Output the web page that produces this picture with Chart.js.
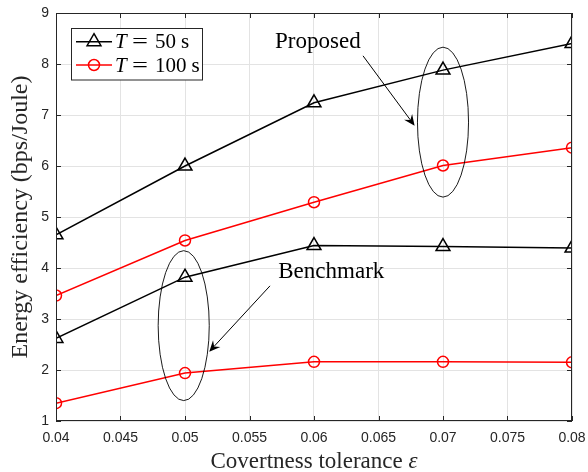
<!DOCTYPE html>
<html><head><meta charset="utf-8">
<script src="https://cdn.jsdelivr.net/npm/chart.js@4"></script>
<style>html,body{margin:0;padding:0;background:#fff}canvas{display:block}</style>
</head><body>
<canvas id="c" width="588" height="472"></canvas>
<script>
// ---- data ----
const epsilon = [0.04, 0.05, 0.06, 0.07, 0.08];
const proposedT50 = [4.65, 6.00, 7.24, 7.88, 8.40];
const proposedT100 = [3.46, 4.54, 5.29, 6.01, 6.36];
const benchmarkT50 = [2.62, 3.82, 4.44, 4.42, 4.39];
const benchmarkT100 = [1.35, 1.94, 2.16, 2.16, 2.15];
const xTickValues = [0.04, 0.045, 0.05, 0.055, 0.06, 0.065, 0.07, 0.075, 0.08];
const xTickLabels = ['0.04', '0.045', '0.05', '0.055', '0.06', '0.065', '0.07', '0.075', '0.08'];
const yTickValues = [1, 2, 3, 4, 5, 6, 7, 8, 9];
const yTickLabels = ['1', '2', '3', '4', '5', '6', '7', '8', '9'];
const legendValues = ['50', '100'];
const xTitle = 'Covertness tolerance ';
const xTitleSymbol = '\u03b5';
const yTitle = 'Energy efficiency (bps/Joule)';
// annotation anchors, in data units
const annProposed = {text: 'Proposed', tx: 0.0603, ty: 8.31, from: [0.0638, 8.16], to: [0.0678, 6.79], ell: [0.07, 6.86, 0.00198, 1.47]};
const annBenchmark = {text: 'Benchmark', tx: 0.06134, ty: 3.80, from: [0.05659, 3.65], to: [0.05188, 2.36], ell: [0.0499, 2.87, 0.00198, 1.47]};

const AX = '#262626';
const SERIF = '"Liberation Serif", "Times New Roman", serif';
const SANS = '"Liberation Sans", Arial, sans-serif';

function pts(ys) { return epsilon.map((x, i) => ({x: x, y: ys[i]})); }
function ds(label, ys, color, style, r) {
  return {label: label, data: pts(ys), borderColor: color, backgroundColor: 'rgba(0,0,0,0)',
    borderWidth: 1.5, pointStyle: style, pointRadius: r, pointHoverRadius: r,
    pointBorderColor: color, pointBackgroundColor: 'rgba(0,0,0,0)', pointBorderWidth: 1.5,
    tension: 0, fill: false};
}

const decor = {
  id: 'decor',
  afterDraw(chart) {
    const ctx = chart.ctx, a = chart.chartArea;
    const xs = chart.scales.x, ys = chart.scales.y;
    ctx.save();
    // frame
    ctx.strokeStyle = AX; ctx.lineWidth = 1;
    ctx.strokeRect(Math.round(a.left) + 0.5, Math.round(a.top) + 0.5, Math.round(a.right - a.left) - 1, Math.round(a.bottom - a.top) - 1);
    // inward ticks
    const tl = 5;
    ctx.beginPath();
    xTickValues.forEach(v => {
      const p = Math.round(xs.getPixelForValue(v)) + 0.5;
      ctx.moveTo(p, a.bottom); ctx.lineTo(p, a.bottom - tl);
      ctx.moveTo(p, a.top); ctx.lineTo(p, a.top + tl);
    });
    yTickValues.forEach(v => {
      const p = Math.round(ys.getPixelForValue(v)) + 0.5;
      ctx.moveTo(a.left, p); ctx.lineTo(a.left + tl, p);
      ctx.moveTo(a.right, p); ctx.lineTo(a.right - tl, p);
    });
    ctx.stroke();

    // x-axis title with italic symbol
    ctx.fillStyle = AX; ctx.textBaseline = 'alphabetic'; ctx.textAlign = 'left';
    ctx.font = '23px ' + SERIF;
    const w1 = ctx.measureText(xTitle).width;
    ctx.font = 'italic 23px ' + SERIF;
    const w2 = ctx.measureText(xTitleSymbol).width;
    const tx0 = (a.left + a.right) / 2 - (w1 + w2) / 2;
    ctx.font = '23px ' + SERIF;
    ctx.fillText(xTitle, tx0, 468);
    ctx.font = 'italic 23px ' + SERIF;
    ctx.fillText(xTitleSymbol, tx0 + w1, 468);

    // annotations
    [annProposed, annBenchmark].forEach(an => {
      const cx = xs.getPixelForValue(an.ell[0]), cy = ys.getPixelForValue(an.ell[1]);
      const rx = Math.abs(xs.getPixelForValue(an.ell[0] + an.ell[2]) - cx);
      const ry = Math.abs(ys.getPixelForValue(an.ell[1] + an.ell[3]) - cy);
      ctx.beginPath(); ctx.ellipse(cx, cy, rx, ry, 0, 0, Math.PI * 2);
      ctx.strokeStyle = '#000'; ctx.lineWidth = 0.9; ctx.stroke();
      // arrow
      const x0 = xs.getPixelForValue(an.from[0]), y0 = ys.getPixelForValue(an.from[1]);
      const x1 = xs.getPixelForValue(an.to[0]), y1 = ys.getPixelForValue(an.to[1]);
      const dx = x1 - x0, dy = y1 - y0, L = Math.hypot(dx, dy);
      const ux = dx / L, uy = dy / L, nx = -uy, ny = ux;
      const hl = 11, hw = 5;
      const bx = x1 - ux * hl, by = y1 - uy * hl;
      const mx = x1 - ux * hl * 0.65, my = y1 - uy * hl * 0.65;
      ctx.beginPath(); ctx.moveTo(x0, y0); ctx.lineTo(mx, my);
      ctx.lineWidth = 1; ctx.stroke();
      ctx.beginPath();
      ctx.moveTo(x1, y1); ctx.lineTo(bx + nx * hw, by + ny * hw);
      ctx.lineTo(mx, my); ctx.lineTo(bx - nx * hw, by - ny * hw); ctx.closePath();
      ctx.fillStyle = '#000'; ctx.fill();
      // text
      ctx.font = '23px ' + SERIF; ctx.fillStyle = '#000';
      ctx.textAlign = 'center'; ctx.textBaseline = 'alphabetic';
      ctx.fillText(an.text, xs.getPixelForValue(an.tx), ys.getPixelForValue(an.ty));
    });

    // legend
    const lx = 71.5, ly = 28.5, lw = 131, lh = 51.5;
    ctx.fillStyle = '#fff'; ctx.fillRect(lx, ly, lw, lh);
    ctx.strokeStyle = AX; ctx.lineWidth = 1; ctx.strokeRect(lx, ly, lw, lh);
    const rows = [41.7, 65];
    [0, 1].forEach(i => {
      const d = chart.data.datasets[i];
      const y = rows[i];
      ctx.beginPath(); ctx.moveTo(76, y); ctx.lineTo(112, y);
      ctx.strokeStyle = d.borderColor; ctx.lineWidth = 1.5; ctx.stroke();
      ctx.fillStyle = 'rgba(0,0,0,0)';
      Chart.helpers.drawPoint(ctx, {pointStyle: d.pointStyle, radius: d.pointRadius, borderWidth: 1.5, rotation: 0}, 94, y);
      ctx.fillStyle = '#000'; ctx.textBaseline = 'middle'; ctx.textAlign = 'left';
      ctx.font = 'italic 21px ' + SERIF;
      ctx.fillText('T', 115, y + 1);
      ctx.font = '21px ' + SERIF;
      ctx.save(); ctx.translate(140, y + 1); ctx.scale(1.35, 1); ctx.textAlign = 'center'; ctx.fillText('=', 0, 0); ctx.restore();
      ctx.fillText(legendValues[i], 155, y + 1);
      const w = ctx.measureText(legendValues[i]).width;
      ctx.fillText('s', 155 + w + 5, y + 1);
    });
    ctx.restore();
  }
};

new Chart(document.getElementById('c'), {
  type: 'line',
  data: {datasets: [
    ds('T = 50 s', proposedT50, '#000000', 'triangle', 8),
    ds('T = 100 s', proposedT100, '#ff0000', 'circle', 5.5),
    ds('T = 50 s (Benchmark)', benchmarkT50, '#000000', 'triangle', 8),
    ds('T = 100 s (Benchmark)', benchmarkT100, '#ff0000', 'circle', 5.5)
  ]},
  options: {
    responsive: false, animation: false, devicePixelRatio: 1,
    layout: {padding: {left: 0, top: 13, right: 16, bottom: 0}},
    plugins: {legend: {display: false}, tooltip: {enabled: false}},
    scales: {
      x: {type: 'linear', min: 0.04, max: 0.08,
        afterBuildTicks: s => { s.ticks = xTickValues.map(v => ({value: v})); },
        afterFit: s => { s.height = 51; s.paddingLeft = 0; s.paddingRight = 0; },
        ticks: {callback: (v, i) => xTickLabels[i], color: AX, font: {family: SANS, size: 14}, padding: 9, maxRotation: 0, autoSkip: false},
        grid: {color: '#e3e3e3', lineWidth: 1, drawTicks: false},
        border: {display: false},
        title: {display: false}
      },
      y: {type: 'linear', min: 1, max: 9,
        afterBuildTicks: s => { s.ticks = yTickValues.map(v => ({value: v})); },
        afterFit: s => { s.width = 56; s.paddingTop = 0; s.paddingBottom = 0; },
        ticks: {callback: (v, i) => yTickLabels[i], color: AX, font: {family: SANS, size: 14}, padding: 7, autoSkip: false},
        grid: {color: '#e3e3e3', lineWidth: 1, drawTicks: false},
        border: {display: false},
        title: {display: true, text: yTitle, color: AX, font: {family: SERIF, size: 24, lineHeight: 1}, padding: {top: 9, bottom: 0}}
      }
    }
  },
  plugins: [decor]
});
</script>
</body></html>
